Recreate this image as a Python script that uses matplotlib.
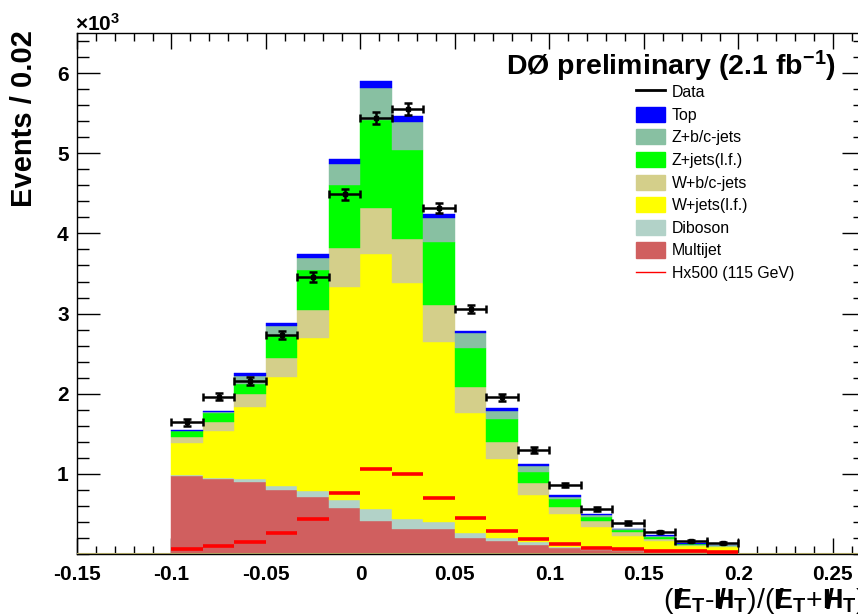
import numpy as np
import matplotlib
matplotlib.use('Agg')
import matplotlib.pyplot as plt
from matplotlib.ticker import MultipleLocator, FixedLocator, FuncFormatter
from matplotlib.patches import Patch
from matplotlib.lines import Line2D

plt.rcParams['font.family'] = ['Liberation Sans', 'DejaVu Sans']
plt.rcParams['mathtext.fontset'] = 'custom'
plt.rcParams['mathtext.rm'] = 'Liberation Sans:bold'
plt.rcParams['mathtext.it'] = 'Liberation Sans:bold'
plt.rcParams['mathtext.bf'] = 'Liberation Sans:bold'
plt.rcParams['mathtext.default'] = 'rm'

# binning: 18 bins between -0.1 and 0.2
bin_lo, bin_hi, n_bins = -0.1, 0.2, 18

# per-bin contributions, stacked bottom to top
multijet = [972, 931, 902, 798, 707, 570, 415, 308, 308, 200, 166, 112, 71, 50, 41, 25, 20, 15]
diboson = [13, 20, 29, 50, 75, 107, 142, 125, 91, 58, 37, 41, 20, 12, 9, 7, 5, 5]
w_lf = [403, 587, 906, 1356, 1908, 2656, 3184, 2950, 2248, 1504, 978, 583, 404, 278, 179, 134, 75, 71]
w_bc = [67, 112, 158, 236, 352, 479, 577, 545, 458, 316, 219, 145, 87, 71, 42, 25, 12, 9]
z_lf = [79, 112, 121, 291, 499, 798, 1093, 1109, 790, 487, 280, 145, 100, 54, 28, 24, 10, 5]
z_bc = [4, 8, 108, 112, 158, 253, 408, 353, 291, 187, 107, 75, 33, 20, 11, 13, 6, 4]
top = [12, 15, 29, 34, 50, 71, 79, 75, 53, 29, 30, 21, 17, 10, 6, 9, 5, 3]

data = [1644, 1960, 2160, 2731, 3454, 4489, 5438, 5549, 4316, 3057, 1958, 1297, 860, 561, 387, 274, 162, 137]
signal = [62, 104, 154, 258, 432, 757, 1056, 1001, 698, 453, 291, 187, 125, 79, 59, 42, 34, 25]

stack = [
    ('Multijet', multijet, '#d05f5f'),
    ('Diboson', diboson, '#b2d2c8'),
    ('W+jets(l.f.)', w_lf, '#ffff00'),
    ('W+b/c-jets', w_bc, '#d4cf8a'),
    ('Z+jets(l.f.)', z_lf, '#00ff00'),
    ('Z+b/c-jets', z_bc, '#88c0a2'),
    ('Top', top, '#0000ff'),
]

edges = np.linspace(bin_lo, bin_hi, n_bins + 1)
centers = 0.5 * (edges[:-1] + edges[1:])
width = edges[1] - edges[0]

fig = plt.figure(figsize=(8.58, 6.16), dpi=100)
ax = fig.add_axes([0.0897, 0.1006, 0.9185, 0.8458])

bottom = np.zeros(n_bins)
for name, vals, col in stack:
    vals = np.array(vals, dtype=float)
    ax.bar(centers, vals, width=width, bottom=bottom, color=col,
           edgecolor=col, linewidth=0.3, zorder=2)
    bottom += vals

ax.axhline(0, color='#a8a060', lw=1.5, zorder=3)

ax.hlines(signal, edges[:-1], edges[1:], color='#ff0000', lw=2.6, zorder=4)

data = np.array(data, dtype=float)
ax.errorbar(centers, data, xerr=width / 2, yerr=np.sqrt(data), fmt='s',
            color='black', ms=3.5, elinewidth=1.8, capsize=2.8, capthick=1.8,
            zorder=5)

ax.set_xlim(-0.15, 0.267)
ax.set_ylim(0, 6500)

ax.xaxis.set_major_locator(MultipleLocator(0.05))
ax.xaxis.set_minor_locator(MultipleLocator(0.01))
ax.xaxis.set_major_formatter(FuncFormatter(lambda v, p: '%g' % round(v, 3)))
ax.yaxis.set_major_locator(FixedLocator([1000, 2000, 3000, 4000, 5000, 6000]))
ax.yaxis.set_minor_locator(MultipleLocator(200))
ax.yaxis.set_major_formatter(FuncFormatter(lambda v, p: '%d' % round(v / 1000)))

ax.tick_params(axis='both', which='both', direction='in', top=True, right=True,
               labelsize=15, width=1)
ax.tick_params(axis='x', which='major', length=11.5, pad=8)
ax.tick_params(axis='x', which='minor', length=5.8)
ax.tick_params(axis='y', which='major', length=16.5, pad=6)
ax.tick_params(axis='y', which='minor', length=8.3)
for lab in ax.get_xticklabels() + ax.get_yticklabels():
    lab.set_fontweight('bold')

for sp in ax.spines.values():
    sp.set_linewidth(1)

fig.text(0.087, 1 - 31 / 616, r'$\times$10$^3$', fontsize=15, fontweight='bold',
         ha='left', va='baseline')

fig.text(0.028, 1 - 30 / 616, 'Events / 0.02', rotation=90, fontsize=21,
         fontweight='bold', ha='center', va='top')

met = r'$E\!\!\!\!/\,\,{}_{T}$'
mht = r'$H\!\!\!\!/\,\,{}_{T}$'
xlab = '(' + met + '-' + mht + ')/(' + met + '+' + mht + ')'
ax.text(1.0, -0.09, xlab, transform=ax.transAxes, fontsize=20.5,
        ha='right', va='center')

ax.text(0.963, 0.918, 'DØ preliminary (2.1 fb$^{-1}$)', transform=ax.transAxes,
        fontsize=20.5, fontweight='bold', ha='right', va='baseline')

handles = [Line2D([], [], color='black', lw=2)]
labels = ['Data']
for name, vals, col in reversed(stack):
    handles.append(Patch(facecolor=col, edgecolor=col))
    labels.append(name)
handles.append(Line2D([], [], color='#ff0000', lw=1))
labels.append('Hx500 (115 GeV)')

leg = fig.legend(handles, labels, loc='upper left',
                 bbox_to_anchor=(636 / 858, 1 - 84 / 616), frameon=False,
                 fontsize=11.4, handlelength=1.85, handleheight=1.1,
                 handletextpad=0.4, labelspacing=0.42, borderpad=0,
                 borderaxespad=0)

fig.savefig('out.png', dpi=100)
